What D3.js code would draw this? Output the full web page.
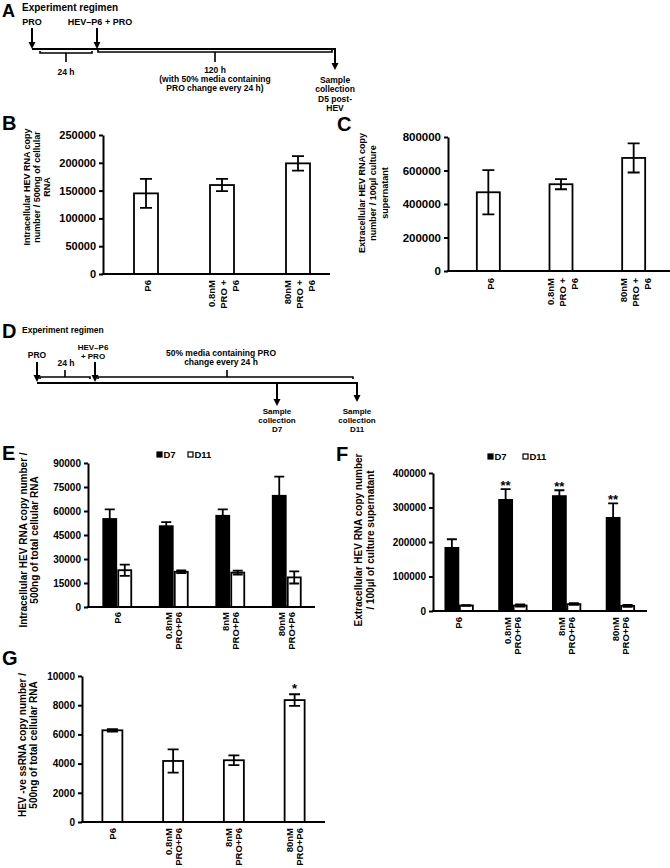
<!DOCTYPE html>
<html><head><meta charset="utf-8">
<script src="https://cdn.jsdelivr.net/npm/d3@7"></script>
<style>
body{margin:0;background:#fff}
text{font-family:"Liberation Sans",Arial,sans-serif;font-weight:bold;fill:#000}
</style>
</head><body><script>
// ---- data ----
var catsBC = [["P6"], ["0.8nM", "PRO +", "P6"], ["80nM", "PRO +", "P6"]];
var valsB = [145000, 160000, 199000];
var errsB = [26000, 11000, 13000];
var ticksB = [0, 50000, 100000, 150000, 200000, 250000];
var valsC = [470000, 518000, 675000];
var errsC = [132000, 30000, 87000];
var ticksC = [0, 200000, 400000, 600000, 800000];

var catsEFG = [["P6"], ["0.8nM", "PRO+P6"], ["8nM", "PRO+P6"], ["80nM", "PRO+P6"]];
var seriesNames = ["D7", "D11"];
var d7E = [55000, 50500, 57000, 69500];
var d7Eerr = [6000, 2500, 4000, 12000];
var d11E = [23000, 22000, 21500, 18500];
var d11Eerr = [3500, 800, 1200, 3800];
var ticksE = [0, 15000, 30000, 45000, 60000, 75000, 90000];

var d7F = [183000, 322000, 333000, 270000];
var d7Ferr = [25000, 31000, 17000, 42000];
var d11F = [16000, 16000, 20000, 15000];
var d11Ferr = [1000, 3000, 2500, 3000];
var starsF = ["", "**", "**", "**"];
var ticksF = [0, 100000, 200000, 300000, 400000];

var valsG = [6280, 4180, 4230, 8350];
var errsG = [80, 800, 330, 400];
var starsG = ["", "", "", "*"];
var ticksG = [0, 2000, 4000, 6000, 8000, 10000];

// timelines (hours from start)
var hoursA = [0, 24, 144];
var eventsA = [{h: 0, label: ["PRO"]}, {h: 24, label: ["HEV\u2013P6 + PRO"]}];
var spansA = [{from: 0, to: 24, label: ["24 h"]},
              {from: 24, to: 144, label: ["120 h", "(with 50% media containing", "PRO change every 24 h)"]}];
var collectA = [{h: 144, label: ["Sample", "collection", "D5 post-", "HEV"]}];

var hoursD = [0, 24, 168, 264];
var eventsD = [{h: 0, label: ["PRO"]}, {h: 24, label: ["HEV\u2013P6", "+ PRO"]}];
var spansD = [{from: 0, to: 24, label: ["24 h"]},
              {from: 24, to: 264, label: ["50% media containing PRO", "change every 24 h"]}];
var collectD = [{h: 168, label: ["Sample", "collection", "D7"]}, {h: 264, label: ["Sample", "collection", "D11"]}];

var svg = d3.select("body").append("svg").attr("width", 670).attr("height", 868);

function lines(g, x, y, arr, size, lh, anchor) {
  arr.forEach(function(s, i){
    g.append("text").attr("x", x).attr("y", y + i * lh).attr("font-size", size)
      .attr("text-anchor", anchor || "middle").text(s);
  });
}
function letter(s, x, y, size) {
  svg.append("text").attr("x", x).attr("y", y).attr("font-size", size || 20).text(s);
}
function arrowDown(g, x, yTop, yTip) {
  g.append("line").attr("x1", x).attr("x2", x).attr("y1", yTop).attr("y2", yTip - 5)
    .attr("stroke", "#000").attr("stroke-width", 2);
  g.append("path").attr("d", "M" + (x - 3.5) + "," + (yTip - 7) + "L" + (x + 3.5) + "," + (yTip - 7) + "L" + x + "," + yTip + "Z")
    .attr("fill", "#000");
}

// ---- panel A ----
letter("A", 2, 17, 18);
svg.append("text").attr("x", 22).attr("y", 11).attr("font-size", 10).text("Experiment regimen");
(function(){
  var g = svg.append("g");
  var x = d3.scaleLinear().domain(hoursA).range([32, 97, 335]);
  var yl = 49;
  eventsA.forEach(function(e, i){
    lines(g, x(e.h) + (i ? 3 : 0), 25, e.label, 9, 9);
    arrowDown(g, x(e.h), 28, yl);
  });
  g.append("line").attr("x1", x(0)).attr("x2", x(144)).attr("y1", yl).attr("y2", yl)
    .attr("stroke", "#000").attr("stroke-width", 2);
  collectA.forEach(function(c){
    arrowDown(g, x(c.h), yl - 1, 70);
    lines(g, x(c.h), 83, c.label, 8.5, 9.3);
  });
  spansA.forEach(function(s, i){
    var x1 = x(s.from) + (i ? 1 : 8), x2 = x(s.to) - (i ? 3 : 5), xm = (x1 + x2) / 2, yb = 53 - i;
    g.append("path").attr("d", "M" + x1 + "," + (yb - 2) + "L" + x1 + "," + yb + "L" + x2 + "," + yb + "L" + x2 + "," + (yb - 2) + "M" + xm + "," + yb + "L" + xm + "," + 62)
      .attr("fill", "none").attr("stroke", "#000").attr("stroke-width", 1.6);
    lines(g, xm, i ? 73 : 75, s.label, 8.5, 9.2);
  });
})();

// ---- panel D ----
letter("D", 2, 338);
svg.append("text").attr("x", 22).attr("y", 333).attr("font-size", 8.5).text("Experiment regimen");
(function(){
  var g = svg.append("g");
  var x = d3.scaleLinear().domain(hoursD).range([37, 95, 277, 357]);
  var yl = 383;
  lines(g, x(0), 358, eventsD[0].label, 8.5, 8);
  lines(g, x(24) - 2, 350, eventsD[1].label, 8, 9);
  eventsD.forEach(function(e){ arrowDown(g, x(e.h), 362, yl - 1); });
  g.append("line").attr("x1", x(0)).attr("x2", x(264)).attr("y1", yl).attr("y2", yl)
    .attr("stroke", "#000").attr("stroke-width", 2);
  collectD.forEach(function(c){
    arrowDown(g, x(c.h), yl - 1, c.h === 264 ? 402 : 406);
    lines(g, x(c.h), 414, c.label, 8, 9);
  });
  spansD.forEach(function(s, i){
    var x1 = x(s.from) + 3, x2 = x(s.to) - (i ? 4 : 5), yb = 377;
    var xm = i ? 227 : (x1 + x2) / 2;
    g.append("path").attr("d", "M" + x1 + "," + (yb + 2) + "L" + x1 + "," + yb + "L" + x2 + "," + yb + "L" + x2 + "," + (yb + 2) + "M" + xm + "," + yb + "L" + xm + "," + 370)
      .attr("fill", "none").attr("stroke", "#000").attr("stroke-width", 1.6);
    if (i) lines(g, 221, 356, s.label, 8.5, 8.5);
    else lines(g, xm + 1, 366, s.label, 8.5, 8.5);
  });
})();

// ---- bar chart helper ----
function chart(o) {
  var g = svg.append("g");
  var y = d3.scaleLinear().domain([0, o.max]).range([o.y0, o.y1]);
  var x = d3.scaleBand().domain(d3.range(o.cats.length)).range(o.xr);
  o.series.forEach(function(s){
    var cx = function(i){ return x(i) + x.bandwidth() / 2 + (s.off || 0); };
    g.selectAll(null).data(s.vals).enter().append("rect")
      .attr("x", function(d, i){ return cx(i) - o.barW / 2; })
      .attr("y", function(d){ return y(d); })
      .attr("width", o.barW)
      .attr("height", function(d){ return o.y0 - y(d); })
      .attr("fill", s.fill).attr("stroke", "#000").attr("stroke-width", 1.8);
    g.selectAll(null).data(s.vals).enter().append("path")
      .attr("d", function(d, i){
        var e = s.errs[i], xc = cx(i), c = o.cap / 2;
        var t = y(d + e), b = y(Math.max(0, d - e));
        return "M" + xc + "," + t + "L" + xc + "," + b +
               "M" + (xc - c) + "," + t + "L" + (xc + c) + "," + t +
               "M" + (xc - c) + "," + b + "L" + (xc + c) + "," + b;
      })
      .attr("fill", "none").attr("stroke", "#000").attr("stroke-width", 1.8);
    if (s.stars) {
      g.selectAll(null).data(s.vals).enter().append("text")
        .attr("x", function(d, i){ return cx(i); })
        .attr("y", function(d, i){ return y(d + s.errs[i]) + o.starDy; })
        .attr("text-anchor", "middle").attr("font-size", 13)
        .text(function(d, i){ return s.stars[i]; });
    }
  });
  var ya = d3.axisLeft(y).tickValues(o.ticks).tickSize(4).tickSizeOuter(0).tickPadding(3).tickFormat(d3.format("d"));
  var ag = g.append("g").attr("transform", "translate(" + o.ax + ",0)").call(ya);
  ag.selectAll("path,line").attr("stroke", "#000").attr("stroke-width", 2);
  ag.selectAll("text").attr("font-size", o.tickFont).attr("font-family", "Liberation Sans, Arial, sans-serif").attr("font-weight", "bold");
  g.append("line").attr("x1", o.ax - 1).attr("x2", o.axEnd).attr("y1", o.y0).attr("y2", o.y0)
    .attr("stroke", "#000").attr("stroke-width", 2);
  // category labels
  o.cats.forEach(function(c, i){
    var lg = g.append("g").attr("transform", "translate(" + (x(i) + x.bandwidth() / 2 + o.catDx) + "," + o.catTop + ") rotate(-90)");
    c.forEach(function(s, j){
      lg.append("text").attr("x", 0).attr("y", (j - (c.length - 1) / 2) * o.catLH + o.catFont * 0.36)
        .attr("text-anchor", "end").attr("font-size", o.catFont).text(s);
    });
  });
  // y title
  var tg = g.append("g").attr("transform", "translate(" + o.tx + "," + o.ty + ") rotate(-90)");
  o.title.forEach(function(s, j){
    tg.append("text").attr("x", 0).attr("y", (j - (o.title.length - 1) / 2) * o.titleLH + o.titleFont * 0.36)
      .attr("text-anchor", "middle").attr("font-size", o.titleFont).text(s);
  });
  // legend
  if (o.legend) {
    seriesNames.forEach(function(n, i){
      var lx = o.legend[0] + i * o.legend[2];
      g.append("rect").attr("x", lx).attr("y", o.legend[1] - 6).attr("width", 5).attr("height", 5)
        .attr("fill", o.series[i].fill).attr("stroke", "#000").attr("stroke-width", 1.2);
      g.append("text").attr("x", lx + 6.5).attr("y", o.legend[1]).attr("font-size", 9.5).text(n);
    });
  }
}

// ---- panel B ----
letter("B", 2, 130);
chart({cats: catsBC, max: 250000, ticks: ticksB, y0: 274, y1: 135, ax: 103, axEnd: 330, xr: [108, 336],
  barW: 24, cap: 12, tickFont: 11, catTop: 280, catLH: 12, catFont: 9.5, catDx: 2,
  series: [{vals: valsB, errs: errsB, fill: "#fff"}],
  title: ["Intracellular HEV RNA copy", "number / 500ng of cellular", "RNA"], tx: 37, ty: 187, titleLH: 10, titleFont: 9});

// ---- panel C ----
letter("C", 337, 131);
chart({cats: catsBC, max: 800000, ticks: ticksC, y0: 271, y1: 137, ax: 448, axEnd: 670, xr: [452, 670],
  barW: 23, cap: 12, tickFont: 11.5, catTop: 278, catLH: 12, catFont: 9.5, catDx: 2,
  series: [{vals: valsC, errs: errsC, fill: "#fff"}],
  title: ["Extracellular HEV RNA copy", "number / 100\u00b5l culture", "supernatant"], tx: 373, ty: 193, titleLH: 11.5, titleFont: 9});

// ---- panel E ----
letter("E", 2, 460);
chart({cats: catsEFG, max: 90000, ticks: ticksE, y0: 607, y1: 463, ax: 88, axEnd: 315, xr: [89, 315],
  barW: 13, cap: 10, tickFont: 10, catTop: 612, catLH: 10, catFont: 9.5, catDx: 0,
  series: [{vals: d7E, errs: d7Eerr, fill: "#000", off: -7.5}, {vals: d11E, errs: d11Eerr, fill: "#fff", off: 7.5}],
  title: ["Intracellular HEV RNA copy number /", "500ng of total cellular RNA"], tx: 29, ty: 540, titleLH: 10.5, titleFont: 10,
  legend: [157, 458, 31]});

// ---- panel F ----
letter("F", 336, 461);
chart({cats: catsEFG, max: 400000, ticks: ticksF, y0: 611, y1: 473, ax: 433, axEnd: 647, xr: [432, 647],
  barW: 13, cap: 10, tickFont: 10, catTop: 617, catLH: 10, catFont: 9.5, catDx: 0,
  series: [{vals: d7F, errs: d7Ferr, fill: "#000", off: -7, stars: starsF}, {vals: d11F, errs: d11Ferr, fill: "#fff", off: 7.5}],
  starDy: 1,
  title: ["Extracellular HEV RNA copy number", "/ 100\u00b5l of culture supernatant"], tx: 364, ty: 540, titleLH: 12, titleFont: 10,
  legend: [488, 460, 35]});

// ---- panel G ----
letter("G", 2, 665);
chart({cats: catsEFG, max: 10000, ticks: ticksG, y0: 822, y1: 676, ax: 82, axEnd: 325, xr: [82, 325],
  barW: 20, cap: 11, tickFont: 10, catTop: 828, catLH: 10, catFont: 9.5, catDx: 0,
  series: [{vals: valsG, errs: errsG, fill: "#fff", stars: starsG}],
  starDy: -1,
  title: ["HEV -ve ssRNA copy number /", "500ng of total cellular RNA"], tx: 28, ty: 745, titleLH: 10.5, titleFont: 10});
</script></body></html>
